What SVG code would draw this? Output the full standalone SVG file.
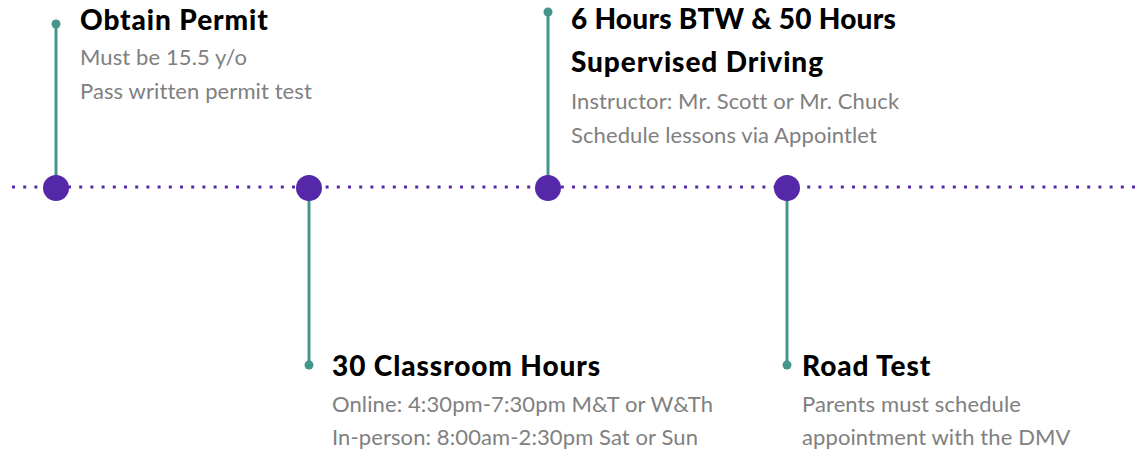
<svg xmlns="http://www.w3.org/2000/svg" width="1135" height="450" viewBox="0 0 1135 450">
<style>
.title{font-family:"Lato","Noto Sans",sans-serif;font-weight:900;font-size:28px;fill:#000;letter-spacing:0.9px}
.desc{font-family:"Lato","Noto Sans",sans-serif;font-size:22px;fill:#808080;letter-spacing:0.1px}
.stem{stroke:#45968a;stroke-width:3;fill:none}
.tip{fill:#45968a}
.hub{fill:#5528aa}
</style>
<rect width="1135" height="450" fill="#fff"/>
<g id="connectors">
<line x1="12" y1="187" x2="1135" y2="187" stroke="#5528aa" stroke-width="3" stroke-dasharray="3 8.2"/>
<line class="stem" x1="56" y1="24" x2="56" y2="187"/>
<line class="stem" x1="309" y1="187" x2="309" y2="365"/>
<line class="stem" x1="548" y1="12" x2="548" y2="187"/>
<line class="stem" x1="787" y1="187" x2="787" y2="365"/>
</g>
<g id="node-permit">
<circle class="tip" cx="56" cy="24" r="4.5"/>
<circle class="hub" cx="56" cy="188" r="13"/>
<text class="title" x="80" y="30">Obtain Permit</text>
<text class="desc" x="80" y="65">Must be 15.5 y/o</text>
<text class="desc" x="80" y="99">Pass written permit test</text>
</g>
<g id="node-classroom">
<circle class="hub" cx="309" cy="188" r="13"/>
<circle class="tip" cx="309" cy="365" r="4.5"/>
<text class="title" x="332" y="376">30 Classroom Hours</text>
<text class="desc" x="332" y="412">Online: 4:30pm-7:30pm M&amp;T or W&amp;Th</text>
<text class="desc" x="332" y="445">In-person: 8:00am-2:30pm Sat or Sun</text>
</g>
<g id="node-btw">
<circle class="tip" cx="548" cy="12" r="4.5"/>
<circle class="hub" cx="548" cy="188" r="13"/>
<text class="title" x="571" y="29" style="letter-spacing:0.25px">6 Hours BTW &amp; 50 Hours</text>
<text class="title" x="571" y="72">Supervised Driving</text>
<text class="desc" x="571" y="109">Instructor: Mr. Scott or Mr. Chuck</text>
<text class="desc" x="571" y="143">Schedule lessons via Appointlet</text>
</g>
<g id="node-road">
<circle class="hub" cx="787" cy="188" r="13"/>
<circle class="tip" cx="787" cy="365" r="4.5"/>
<text class="title" x="802" y="376">Road Test</text>
<text class="desc" x="802" y="412">Parents must schedule</text>
<text class="desc" x="802" y="445">appointment with the DMV</text>
</g>
</svg>
